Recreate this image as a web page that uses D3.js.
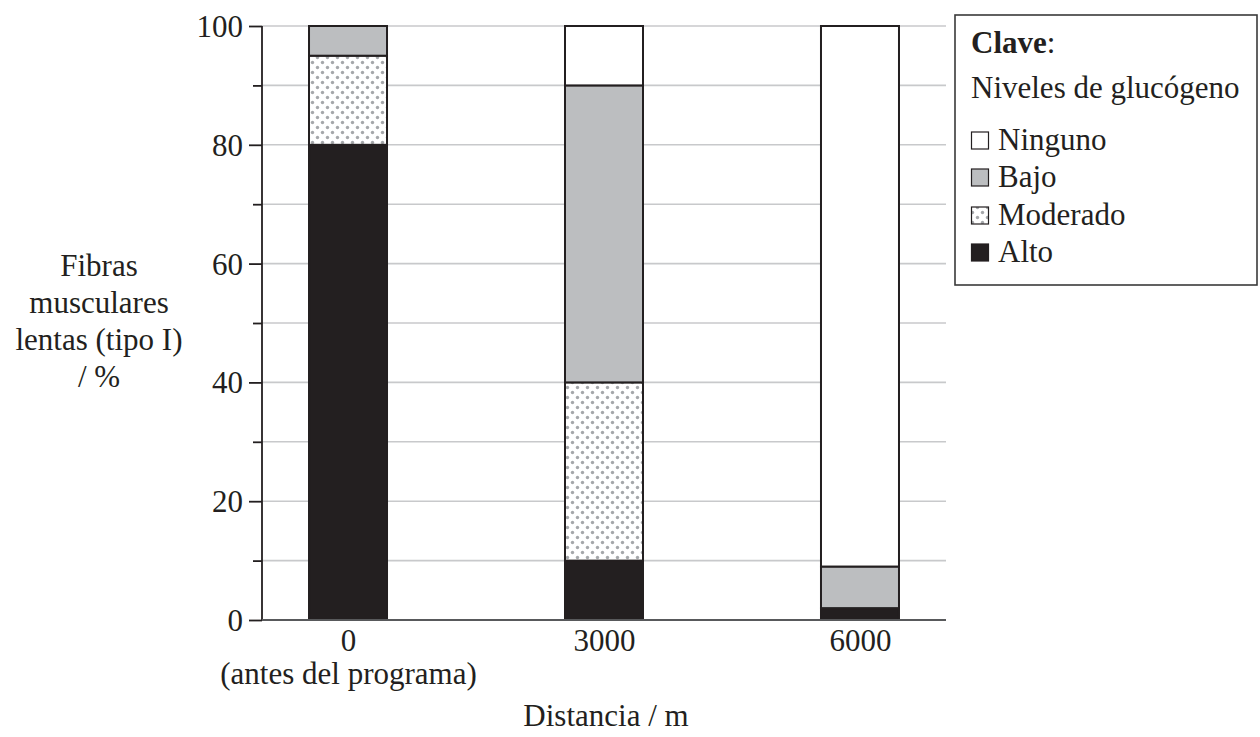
<!DOCTYPE html>
<html><head><meta charset="utf-8">
<script src="https://cdn.jsdelivr.net/npm/d3@7"></script>
<style>
html,body{margin:0;padding:0;background:#fff;}
svg{display:block;font-family:"Liberation Serif","Times New Roman",serif;}
</style></head>
<body>
<svg id="c" width="1260" height="737"></svg>
<script>
const categories = ["0", "3000", "6000"];
const categorySub = ["(antes del programa)", "", ""];
const seriesNames = ["Alto", "Moderado", "Bajo", "Ninguno"];
const alto = [80, 10, 2];
const moderado = [15, 30, 0];
const bajo = [5, 50, 7];
const ninguno = [0, 10, 91];
const yTicks = [0, 20, 40, 60, 80, 100];
const yMinorTicks = [10, 30, 50, 70, 90];
const gridValues = [10, 20, 30, 40, 50, 60, 70, 80, 90, 100];
const yLabelLines = ["Fibras", "musculares", "lentas (tipo I)", "/ %"];
const xLabel = "Distancia / m";
const legendTitle = "Clave";
const legendSubtitle = "Niveles de glucógeno";
const legendOrder = ["Ninguno", "Bajo", "Moderado", "Alto"];

const FS = 31;
const dark = "#231f20";
const svg = d3.select("#c");

const defs = svg.append("defs");
const pat = defs.append("pattern").attr("id", "dots").attr("patternUnits", "userSpaceOnUse")
  .attr("width", 10).attr("height", 10);
pat.append("rect").attr("width", 10).attr("height", 10).attr("fill", "#fff");
pat.append("circle").attr("cx", 2.5).attr("cy", 2.5).attr("r", 1.7).attr("fill", "#a5a7aa");
pat.append("circle").attr("cx", 7.5).attr("cy", 7.5).attr("r", 1.7).attr("fill", "#a5a7aa");

const fills = {Alto: dark, Moderado: "url(#dots)", Bajo: "#bcbec0", Ninguno: "#ffffff"};

const x0 = 262, x1 = 946, yBot = 620, yTop = 26;
const x = d3.scalePoint().domain(categories).range([x0, x1]).padding(0.336);
const y = d3.scaleLinear().domain([0, 100]).range([yBot, yTop]);
const barW = 78;

// gridlines
svg.append("g").selectAll("line").data(gridValues).join("line")
  .attr("x1", x0).attr("x2", x1).attr("y1", d => y(d)).attr("y2", d => y(d))
  .attr("stroke", "#c8c9cb").attr("stroke-width", 1.6);

// stacked bars
const table = categories.map((c, i) => ({cat: c, Alto: alto[i], Moderado: moderado[i], Bajo: bajo[i], Ninguno: ninguno[i]}));
const stack = d3.stack().keys(seriesNames)(table);
const gBars = svg.append("g");
stack.forEach(layer => {
  gBars.append("g").selectAll("rect").data(layer.filter(d => d[1] - d[0] > 0)).join("rect")
    .attr("x", d => x(d.data.cat) - barW / 2)
    .attr("y", d => y(d[1]))
    .attr("width", barW)
    .attr("height", d => y(d[0]) - y(d[1]))
    .attr("fill", fills[layer.key])
    .attr("stroke", dark).attr("stroke-width", 2);
});

// y axis
const yAxis = d3.axisLeft(y).tickValues(yTicks).tickSize(13).tickPadding(6).tickFormat(d3.format("d"));
const gy = svg.append("g").attr("transform", `translate(${x0},0)`).call(yAxis);
gy.select(".domain").attr("stroke", dark).attr("stroke-width", 1.8).attr("d", `M-0,${yBot}V${yTop}`);
gy.selectAll(".tick line").attr("stroke", dark).attr("stroke-width", 1.8);
gy.selectAll(".tick text").attr("font-size", FS).attr("font-family", "Liberation Serif").attr("fill", dark)
  .attr("dy", "0.34em");
const yMinor = d3.axisLeft(y).tickValues(yMinorTicks).tickSize(9).tickFormat("");
const gym = svg.append("g").attr("transform", `translate(${x0},0)`).call(yMinor);
gym.select(".domain").remove();
gym.selectAll(".tick line").attr("stroke", dark).attr("stroke-width", 1.8);

// x axis
const xAxis = d3.axisBottom(x).tickSize(0).tickPadding(0);
const gx = svg.append("g").attr("transform", `translate(0,${yBot})`).call(xAxis);
gx.select(".domain").attr("stroke", "#58595b").attr("stroke-width", 2).attr("d", `M${x0},0H${x1}`);
gx.selectAll(".tick text").remove();
gx.selectAll(".tick").each(function(d, i) {
  const t = d3.select(this).append("text").attr("fill", dark).attr("font-size", FS)
    .attr("font-family", "Liberation Serif").attr("text-anchor", "middle");
  t.append("tspan").attr("x", 0).attr("y", 31).text(d);
  if (categorySub[i]) t.append("tspan").attr("x", 0).attr("y", 64).text(categorySub[i]);
});

// axis labels
svg.append("text").attr("x", 606).attr("y", 726).attr("text-anchor", "middle")
  .attr("font-size", FS).attr("fill", dark).text(xLabel);
const yl = svg.append("text").attr("text-anchor", "middle").attr("font-size", FS).attr("fill", dark);
yLabelLines.forEach((s, i) => yl.append("tspan").attr("x", 99).attr("y", 276 + i * 37).text(s));

// legend
const lg = svg.append("g");
lg.append("rect").attr("x", 955).attr("y", 15).attr("width", 302).attr("height", 270)
  .attr("fill", "#fff").attr("stroke", "#3a3a3a").attr("stroke-width", 1.6);
const tt = lg.append("text").attr("x", 971).attr("y", 53).attr("font-size", FS).attr("fill", dark);
tt.append("tspan").attr("font-weight", "bold").text(legendTitle);
tt.append("tspan").text(":");
lg.append("text").attr("x", 971).attr("y", 98).attr("font-size", FS).attr("fill", dark).text(legendSubtitle);
const rowY = [150, 187, 225, 262];
legendOrder.forEach((k, i) => {
  lg.append("rect").attr("x", 971.5).attr("y", rowY[i] - 18).attr("width", 17).attr("height", 17)
    .attr("fill", fills[k]).attr("stroke", dark).attr("stroke-width", 1.2);
  lg.append("text").attr("x", 998).attr("y", rowY[i]).attr("font-size", FS).attr("fill", dark).text(k);
});
</script>
</body></html>
